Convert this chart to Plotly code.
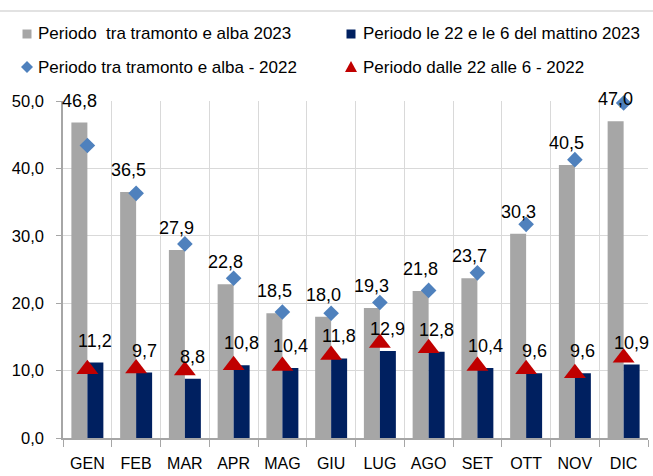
import plotly.graph_objects as go

# ---- data ----
months = ["GEN", "FEB", "MAR", "APR", "MAG", "GIU", "LUG", "AGO", "SET", "OTT", "NOV", "DIC"]
sunset_2023 = [46.8, 36.5, 27.9, 22.8, 18.5, 18.0, 19.3, 21.8, 23.7, 30.3, 40.5, 47.0]
night_2023 = [11.2, 9.7, 8.8, 10.8, 10.4, 11.8, 12.9, 12.8, 10.4, 9.6, 9.6, 10.9]
sunset_2022 = [43.4, 36.3, 28.8, 23.7, 18.7, 18.5, 20.1, 21.9, 24.5, 31.7, 41.3, 49.7]
night_2022 = [10.2, 10.3, 10.0, 10.8, 10.7, 12.3, 14.1, 13.3, 10.7, 10.2, 9.6, 11.9]
y_ticks = [0, 10, 20, 30, 40, 50]

names = [
    "Periodo\u00a0 tra tramonto e alba 2023",
    "Periodo le 22 e le 6 del mattino 2023",
    "Periodo tra tramonto e alba - 2022",
    "Periodo dalle 22 alle 6 - 2022",
]

# ---- style ----
W, H = 653, 476
L, R, T, B = 63, 5, 101, 38
PW, PH = W - L - R, H - T - B
FONT = "Liberation Sans, Arial, sans-serif"
GRAY, NAVY, BLUE, RED = "#A6A6A6", "#002060", "#4F81BD", "#C00000"
GRID = "#D9D9D9"
BARGAP = 0.344
BW = (1 - BARGAP) / 2


def fx(px):
    return (px - L) / PW


def fy(py):
    return (H - B - py) / PH


fig = go.Figure()
fig.add_trace(go.Bar(x=months, y=sunset_2023, name=names[0], marker=dict(color=GRAY, line=dict(width=0))))
fig.add_trace(go.Bar(x=months, y=night_2023, name=names[1], marker=dict(color=NAVY, line=dict(width=0))))
fig.add_trace(go.Scatter(x=months, y=sunset_2022, name=names[2], mode="markers", cliponaxis=False,
                         marker=dict(symbol="diamond", size=12, color=BLUE)))
fig.add_trace(go.Scatter(x=months, y=night_2022, name=names[3], mode="markers", cliponaxis=False,
                         marker=dict(symbol="triangle-up", size=19, color=RED)))

annotations = []
for i, (a, b) in enumerate(zip(sunset_2023, night_2023)):
    for off, v in ((-BW / 2, a), (BW / 2, b)):
        annotations.append(dict(
            x=i + off, y=v, xref="x", yref="y", text=f"{v:.1f}".replace(".", ","),
            showarrow=False, yanchor="middle", xanchor="center", yshift=22,
            font=dict(family=FONT, size=18, color="black"),
        ))

# manual legend
leg_rows = [34, 67]
leg_cols = [27, 351]
leg_text_x = [36, 361]
for k, nm in enumerate(names):
    r, c = divmod(k, 2)
    annotations.append(dict(
        x=fx(leg_text_x[c]), y=fy(leg_rows[r]), xref="paper", yref="paper", text=nm,
        showarrow=False, xanchor="left", yanchor="middle",
        font=dict(family=FONT, size=17, color="black"),
    ))

shapes = []
# separator line at the top
shapes.append(dict(type="line", xref="paper", yref="paper", x0=fx(0), x1=fx(W), y0=fy(11), y1=fy(11),
                   line=dict(color=GRID, width=1.5)))
# squares
for c, col in zip(leg_cols, (GRAY, NAVY)):
    cy = leg_rows[0]
    shapes.append(dict(type="rect", xref="paper", yref="paper",
                       x0=fx(c - 4.5), x1=fx(c + 4.5), y0=fy(cy + 4.5), y1=fy(cy - 4.5),
                       fillcolor=col, line=dict(width=0)))
# diamond
cx, cy = leg_cols[0], leg_rows[1]
shapes.append(dict(type="path", xref="paper", yref="paper",
                   path=f"M {fx(cx-6)} {fy(cy)} L {fx(cx)} {fy(cy-6)} L {fx(cx+6)} {fy(cy)} L {fx(cx)} {fy(cy+6)} Z",
                   fillcolor=BLUE, line=dict(width=0)))
# triangle
cx, cy = leg_cols[1], leg_rows[1]
shapes.append(dict(type="path", xref="paper", yref="paper",
                   path=f"M {fx(cx-6)} {fy(cy+5)} L {fx(cx)} {fy(cy-6)} L {fx(cx+6)} {fy(cy+5)} Z",
                   fillcolor=RED, line=dict(width=0)))

fig.update_layout(
    width=W, height=H, autosize=False,
    margin=dict(l=L, r=R, t=T, b=B, pad=0),
    paper_bgcolor="white", plot_bgcolor="white",
    barmode="group", bargap=BARGAP, bargroupgap=0,
    showlegend=False,
    separators=",.",
    font=dict(family=FONT, size=16, color="black"),
    annotations=annotations, shapes=shapes,
)
fig.update_xaxes(
    type="category", range=[-0.5, 11.5], tickson="boundaries", tickangle=0,
    ticks="outside", ticklen=7, tickcolor=GRAY, tickwidth=1,
    showline=True, linecolor=GRAY, linewidth=1.5,
    showgrid=True, gridcolor=GRID, gridwidth=1,
    tickfont=dict(family=FONT, size=16, color="black"),
    ticklabelstandoff=10,
)
fig.update_yaxes(
    range=[0, 50], tickvals=y_ticks, tickformat=".1f",
    ticks="outside", ticklen=5, tickcolor=GRAY,
    showline=True, linecolor=GRAY, linewidth=1.5,
    showgrid=True, gridcolor=GRID, zeroline=False,
    tickfont=dict(family=FONT, size=16.5, color="black"),
    ticklabelstandoff=9,
)

fig.write_html(
    "out.html",
    config={"displayModeBar": False},
    post_script="document.body.style.margin='0';document.body.style.overflow='hidden';",
)
